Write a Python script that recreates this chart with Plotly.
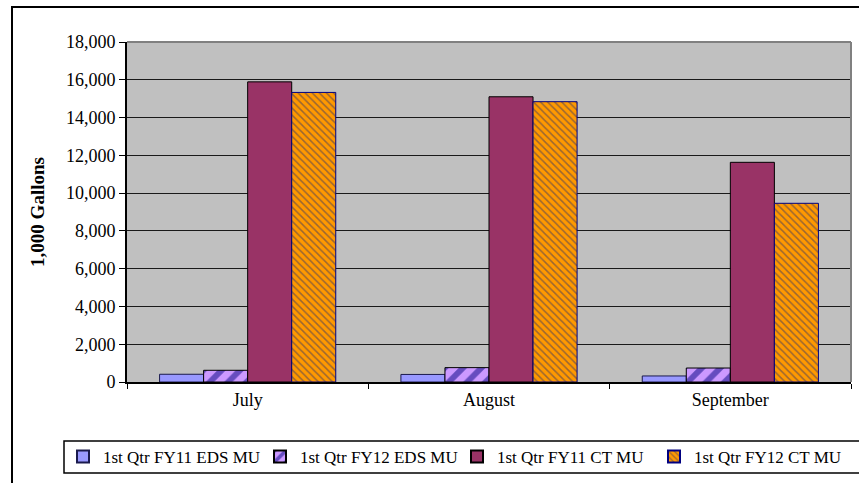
import plotly.graph_objects as go

months = ["July", "August", "September"]
fy11_eds = [410, 400, 320]
fy12_eds = [620, 760, 740]
fy11_ct = [15890, 15100, 11630]
fy12_ct = [15330, 14840, 9460]

series_names = [
    "1st Qtr FY11 EDS MU",
    "1st Qtr FY12 EDS MU",
    "1st Qtr FY11 CT MU",
    "1st Qtr FY12 CT MU",
]
y_ticks = [0, 2000, 4000, 6000, 8000, 10000, 12000, 14000, 16000, 18000]

FONT = "Liberation Serif, Times New Roman, serif"

fig = go.Figure()
fig.add_trace(go.Bar(
    name=series_names[0], x=months, y=fy11_eds,
    marker=dict(color="#9999FF", line=dict(color="#1a1a4d", width=1)),
))
fig.add_trace(go.Bar(
    name=series_names[1], x=months, y=fy12_eds,
    marker=dict(color="#CC99FF", line=dict(color="#000000", width=1),
                pattern=dict(shape="/", fgcolor="#000080", bgcolor="#CC99FF",
                             size=13, solidity=0.45)),
))
fig.add_trace(go.Bar(
    name=series_names[2], x=months, y=fy11_ct,
    marker=dict(color="#993366", line=dict(color="#000000", width=1)),
))
fig.add_trace(go.Bar(
    name=series_names[3], x=months, y=fy12_ct,
    marker=dict(color="#FF9900", line=dict(color="#000080", width=1),
                pattern=dict(shape="\\", fgcolor="#333366", bgcolor="#FF9900",
                             size=5, solidity=0.3)),
))

W, H = 859, 483
L, R, T, B = 127, 8, 42, 101
pw = W - L - R
ph = H - T - B

def px_x(p):
    return (p - L) / pw

def px_y(p):
    return (H - B - p) / ph

fig.update_layout(
    width=W, height=H,
    margin=dict(l=L, r=R, t=T, b=B, autoexpand=False),
    paper_bgcolor="white",
    plot_bgcolor="#C0C0C0",
    barmode="group",
    bargap=0.27,
    bargroupgap=0,
    font=dict(family=FONT, size=18, color="black"),
    showlegend=True,
    legend=dict(
        orientation="h",
        x=px_x(63), y=px_y(457),
        xanchor="left", yanchor="middle",
        borderwidth=0,
        bgcolor="rgba(0,0,0,0)",
        font=dict(family=FONT, size=17),
        entrywidth=152, entrywidthmode="pixels",
        itemsizing="constant",
        itemwidth=30,
    ),
    xaxis=dict(
        showline=True, linecolor="black", linewidth=2,
        ticks="outside", tickson="boundaries", ticklen=5, tickcolor="black",
        tickfont=dict(family=FONT, size=18),
        showgrid=False,
    ),
    yaxis=dict(
        range=[0, 18000],
        tickvals=y_ticks,
        tickformat=",d",
        showline=True, linecolor="black", linewidth=2,
        ticks="outside", ticklen=6, tickcolor="black",
        showgrid=True, gridcolor="#1a1a1a", gridwidth=1,
        tickfont=dict(family=FONT, size=18),
        title=dict(text="<b>1,000 Gallons</b>", font=dict(family=FONT, size=19), standoff=16),
        zeroline=False,
    ),
    shapes=[
        # plot area frame on top and right
        dict(type="line", xref="paper", yref="paper", x0=0, x1=1, y0=1, y1=1,
             line=dict(color="#808080", width=2), layer="above"),
        dict(type="line", xref="paper", yref="paper", x0=1, x1=1, y0=0, y1=1,
             line=dict(color="#808080", width=2), layer="above"),
        # legend frame
        dict(type="rect", xref="paper", yref="paper",
             x0=px_x(64), x1=px_x(W + 20), y0=px_y(473), y1=px_y(441),
             line=dict(color="black", width=1.5), fillcolor="rgba(0,0,0,0)", layer="above"),
        # outer chart border
        dict(type="rect", xref="paper", yref="paper",
             x0=px_x(12), x1=px_x(W + 20), y0=px_y(H + 20), y1=px_y(7),
             line=dict(color="black", width=2), fillcolor="rgba(0,0,0,0)", layer="above"),
    ],
)

fig.write_html("out.html")
